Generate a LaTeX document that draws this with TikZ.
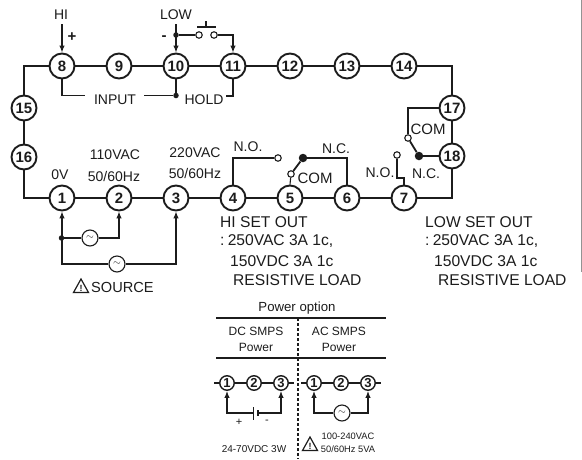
\documentclass[tikz,border=0pt]{standalone}
\usepackage{fontspec}
\setmainfont{Liberation Sans}
\usetikzlibrary{arrows.meta,calc}
\definecolor{ink}{HTML}{1c1c1c}
\newcommand{\fs}[1]{\fontsize{#1}{#1}\selectfont}
\newcommand{\tld}{$\sim$}
\tikzset{
  term/.style={circle,draw=ink,line width=1.9pt,minimum size=25pt,inner sep=0pt,fill=white,font=\fs{15}\bfseries,text=ink},
  smallterm/.style={circle,draw=ink,line width=1.4pt,minimum size=14.5pt,inner sep=0pt,fill=white,font=\fs{13}\bfseries,text=ink},
  bus/.style={draw=ink,line width=2pt},
  wire/.style={draw=ink,line width=1.1pt},
  arrowwire/.style={wire,-{Latex[length=7pt,width=5.5pt]}},
  blade/.style={draw=ink,line width=1.8pt},
  contact/.style={circle,draw=ink,line width=1.1pt,fill=white,minimum size=6.5pt,inner sep=0pt},
  dotj/.style={circle,fill=ink,minimum size=5.5pt,inner sep=0pt},
  bigdot/.style={circle,fill=ink,minimum size=8.5pt,inner sep=0pt},
  acsrc/.style={circle,draw=ink,line width=1.1pt,fill=white,minimum size=16pt,inner sep=0pt,font=\fs{10},text=ink},
  lab/.style={inner sep=0pt,text=ink,font=\fs{14}},
  labl/.style={inner sep=0pt,text=ink,font=\fs{15.6},anchor=west},
  pow/.style={inner sep=0pt,text=ink,font=\fs{12}},
  tiny/.style={inner sep=0pt,text=ink,font=\fs{9.3}},
  warntri/.pic={
    \draw[ink,line width=1.2pt,line join=miter] (-7.5,6.5) -- (0,-7) -- (7.5,6.5) -- cycle;
    \node[inner sep=0pt,text=ink,font=\fs{9}\bfseries] at (0,2) {!};
  }
}
\begin{document}
\begin{tikzpicture}[x=1pt,y=-1pt]
\useasboundingbox (0,0) rectangle (582,459);
\fill[white] (0,0) rectangle (582,459);
\draw[gray!85,line width=1pt] (581,0) -- (581,272);
% terminals
\foreach \n/\x in {8/62,9/119,10/176,11/233,12/290,13/347,14/404}
  \node[term] (t\n) at (\x,66) {\n};
\foreach \n/\x in {1/62,2/119,3/176,4/233,5/290,6/347,7/404}
  \node[term] (t\n) at (\x,198) {\n};
\node[term] (t15) at (24,108) {15};
\node[term] (t16) at (24,157) {16};
\node[term] (t17) at (452,108) {17};
\node[term] (t18) at (452,156) {18};
% bus
\draw[bus] (t8) -- (t9);
\draw[bus] (t9) -- (t10);
\draw[bus] (t10) -- (t11);
\draw[bus] (t11) -- (t12);
\draw[bus] (t12) -- (t13);
\draw[bus] (t13) -- (t14);
\draw[bus] (t14.east) -| (t17.north);
\draw[bus] (t17) -- (t18);
\draw[bus] (t18.south) |- (t7.east);
\draw[bus] (t7) -- (t6);
\draw[bus] (t6) -- (t5);
\draw[bus] (t5) -- (t4);
\draw[bus] (t4) -- (t3);
\draw[bus] (t3) -- (t2);
\draw[bus] (t2) -- (t1);
\draw[bus] (t1.west) -| (t16.south);
\draw[bus] (t16) -- (t15);
\draw[bus] (t15.north) |- (t8.west);
% top labels
\node[lab] (hi) at (61,15) {HI};
\node[lab] (low) at (176,15) {LOW};
\node[lab,font=\fs{15}\bfseries] at (72,37) {+};
\node[lab,font=\fs{15}\bfseries] at (164,38) {-};
\coordinate (hitop) at (62,24);
\coordinate (lowtop) at (176,24);
\draw[arrowwire,line width=1.2pt] (hitop) -- (t8.north);
\draw[arrowwire,line width=1.2pt] (lowtop) -- (t10.north);
\node[dotj] (lowdot) at (176,35) {};
\node[contact] (sw1) at (199,35) {};
\node[contact] (sw2) at (214,35) {};
\draw[wire] (lowdot) -- (sw1);
\draw[arrowwire] (sw2.east) -| (t11.north);
\coordinate (barl) at (197,27);
\coordinate (barr) at (216,27);
\coordinate (barm) at (206,27);
\coordinate (bart) at (206,21);
\draw[wire,line width=1.3pt] (barl) -- (barr);
\draw[wire,line width=1.3pt] (barm) -- (bart);
% input / hold
\node[lab] (input) at (115,100) {INPUT};
\node[lab] (hold) at (204,100) {HOLD};
\node[dotj] (indot) at (176,95.5) {};
\coordinate (ia) at (85,95.5);
\draw[wire] (t8.south) |- (ia);
\draw[bus] (t10.south) -- (indot);
\coordinate (ib) at (144,95.5);
\draw[wire] (ib) -- (indot);
\coordinate (hb) at (226,96);
\draw[wire] (t11.south) |- (hb);
% bottom left labels
\node[lab] at (60,175) {0V};
\node[lab] at (115,155) {110VAC};
\node[lab] at (114,176) {50/60Hz};
\node[lab] at (195,153) {220VAC};
\node[lab] at (195,173) {50/60Hz};
% source
\node[acsrc] (ac1) at (90,238) {\tld};
\node[acsrc] (ac2) at (117,264) {\tld};
\node[dotj] (srcdot) at (61.5,238) {};
\draw[arrowwire] (ac2.west) -| (t1.south);
\draw[wire] (srcdot) -- (ac1);
\draw[arrowwire] (ac1.east) -| (t2.south);
\draw[arrowwire] (ac2.east) -| (t3.south);
\pic at (81,286) {warntri};
\node[lab,anchor=west,font=\fs{14.6}] at (91,287) {SOURCE};
% relay HI
\node[lab] at (248,147) {N.O.};
\node[lab] at (336,149) {N.C.};
\node[lab,font=\fs{15}] at (315,178) {COM};
\node[contact] (no1) at (278,158) {};
\node[contact] (com1) at (291,174) {};
\node[bigdot] (nc1) at (303,158) {};
\draw[wire] (t4.north) |- (no1);
\draw[wire] (com1) -- (t5.north);
\draw[blade] (com1) -- (nc1);
\draw[wire] (nc1) -| (t6.north);
% relay LOW
\node[lab,font=\fs{15}] at (428,129) {COM};
\node[lab] at (380,173) {N.O.};
\node[lab] at (426,174) {N.C.};
\node[contact] (com2) at (408,138) {};
\node[bigdot] (nc2) at (419,156) {};
\node[contact] (no2) at (397,155) {};
\coordinate (k1) at (397,178);
\coordinate (k2) at (404,178);
\draw[wire] (t17.west) -| (com2);
\draw[blade] (com2) -- (nc2);
\draw[wire] (nc2) -- (t18);
\draw[wire] (no2) -- (k1) -- (k2) -- (t7.north);
% output text
\node[labl] at (220,222) {HI SET OUT};
\node[labl] at (220,241) {:\hspace{-2.5pt} 250VAC 3A 1c,};
\node[labl] at (230,261) {150VDC 3A 1c};
\node[labl] at (233,280) {RESISTIVE LOAD};
\node[labl] at (425,222) {LOW SET OUT};
\node[labl] at (425,241) {:\hspace{-2.5pt} 250VAC 3A 1c,};
\node[labl] at (434,261) {150VDC 3A 1c};
\node[labl] at (438,280) {RESISTIVE LOAD};
% power option
\node[lab,font=\fs{13.2}] at (297,308) {Power option};
\draw[ink,line width=1.1pt] (216,318) -- (386,318);
\draw[ink,line width=1.1pt] (216,358) -- (386,358);
\draw[ink,line width=1.2pt,dash pattern=on 2.5pt off 2.5pt] (298,318) -- (298,459);
\node[pow] at (256,331) {DC SMPS};
\node[pow] at (256,347) {Power};
\node[pow] at (339,331) {AC SMPS};
\node[pow] at (339,347) {Power};
\foreach \n/\x in {1/227,2/254,3/281} \node[smallterm] (d\n) at (\x,383) {\n};
\foreach \n/\x in {1/314,2/341,3/368} \node[smallterm] (a\n) at (\x,383) {\n};
\coordinate (dl) at (214,383); \coordinate (dr) at (294,383);
\coordinate (al) at (301,383); \coordinate (ar) at (381,383);
\draw[wire] (dl) -- (d1); \draw[wire] (d1) -- (d2); \draw[wire] (d2) -- (d3); \draw[wire] (d3) -- (dr);
\draw[wire] (al) -- (a1); \draw[wire] (a1) -- (a2); \draw[wire] (a2) -- (a3); \draw[wire] (a3) -- (ar);
% battery
\coordinate (bl) at (253.5,413); \coordinate (br) at (258,413);
\draw[arrowwire,line width=1.2pt] (bl) -| (d1.south);
\draw[arrowwire,line width=1.2pt] (br) -| (d3.south);
\draw[ink,line width=1.2pt] (253.5,407) -- (253.5,420);
\draw[ink,line width=1.8pt] (258,410) -- (258,416);
\node[pow,font=\fs{11}] at (239,422) {+};
\node[pow,font=\fs{11}] at (267,422) {-};
\node[acsrc] (ac3) at (342,413) {\tld};
\draw[arrowwire,line width=1.2pt] (ac3.west) -| (a1.south);
\draw[arrowwire,line width=1.2pt] (ac3.east) -| (a3.south);
\node[inner sep=0pt,text=ink,font=\fs{10}] at (254,449) {24-70VDC 3W};
\node[tiny] at (348,436) {100-240VAC};
\node[tiny] at (348,449) {50/60Hz 5VA};
\pic at (310,444) {warntri};
\end{tikzpicture}
\end{document}
